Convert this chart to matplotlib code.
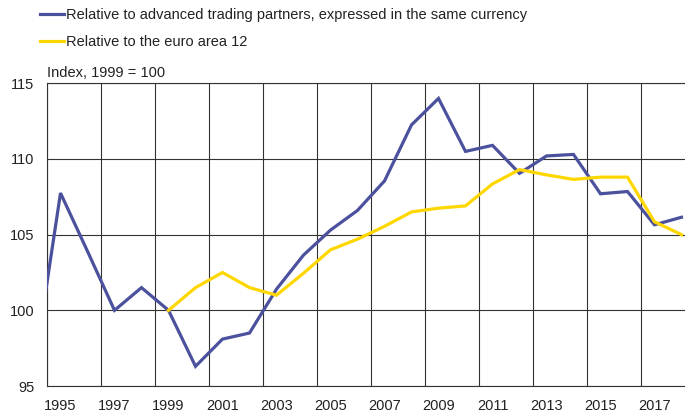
import matplotlib.pyplot as plt
from matplotlib.ticker import FixedLocator

plt.rcParams['font.family'] = ['Liberation Sans', 'DejaVu Sans']

# annual index values, 1999 = 100
years = list(range(1994, 2019))
advanced = [95.9, 107.75, 103.9, 100.0, 101.5, 100.0, 96.3, 98.1, 98.5, 101.4,
            103.65, 105.3, 106.6, 108.55, 112.25, 114.0, 110.5, 110.9, 109.05,
            110.2, 110.3, 107.7, 107.85, 105.65, 106.15]
euro_years = list(range(1999, 2019))
euro12 = [100.0, 101.5, 102.5, 101.5, 101.0, 102.45, 104.0, 104.7, 105.55,
          106.5, 106.75, 106.9, 108.35, 109.3, 108.95, 108.65, 108.8, 108.8,
          105.85, 105.0]

label_years = list(range(1995, 2018, 2))
legend_labels = ['Relative to advanced trading partners, expressed in the same currency',
                 'Relative to the euro area 12']
unit_label = 'Index, 1999 = 100'

blue = '#4c519e'
yellow = '#ffd700'

W, H = 685, 411
fig = plt.figure(figsize=(W / 100, H / 100), dpi=100)
x0, x1 = 1994.5, 2018.5
left, top, bottom = 47, 83.3, 386
px_per_year = 27
ax = fig.add_axes([left / W, 1 - bottom / H,
                   (x1 - x0) * px_per_year / W, (bottom - top) / H])

l1, = ax.plot(years, advanced, color=blue, lw=2.3, zorder=3,
              solid_joinstyle='miter')
l2, = ax.plot(euro_years, euro12, color=yellow, lw=2.3, zorder=4,
              solid_joinstyle='miter')

ax.set_xlim(x0, x1)
ax.set_ylim(95, 115)
ax.set_yticks([95, 100, 105, 110, 115])
ax.set_xticks(label_years)
ax.set_xticklabels([str(y) for y in label_years])
ax.xaxis.set_minor_locator(FixedLocator([y - 0.5 for y in label_years]))
ax.grid(which='minor', axis='x', color='#333333', lw=0.8)
ax.grid(which='major', axis='y', color='#333333', lw=0.8)
ax.tick_params(which='both', length=0, labelsize=10.5, colors='#222222')
ax.tick_params(axis='x', pad=9)
ax.tick_params(axis='y', pad=9)
for s in ['right']:
    ax.spines[s].set_visible(False)
for s in ['left', 'top', 'bottom']:
    ax.spines[s].set_color('#333333')
    ax.spines[s].set_linewidth(0.8)

ax.text(0, 1.01, unit_label, transform=ax.transAxes, fontsize=10.5,
        color='#222222', ha='left', va='bottom')

fig.legend([l1, l2], legend_labels, loc='upper left',
           bbox_to_anchor=(40 / W, 1 - 8 / H), frameon=False, fontsize=10.5,
           handlelength=1.65, handletextpad=0.1, borderpad=0, borderaxespad=0,
           labelspacing=0.9, labelcolor='#222222')

fig.savefig('out.png', dpi=100)
